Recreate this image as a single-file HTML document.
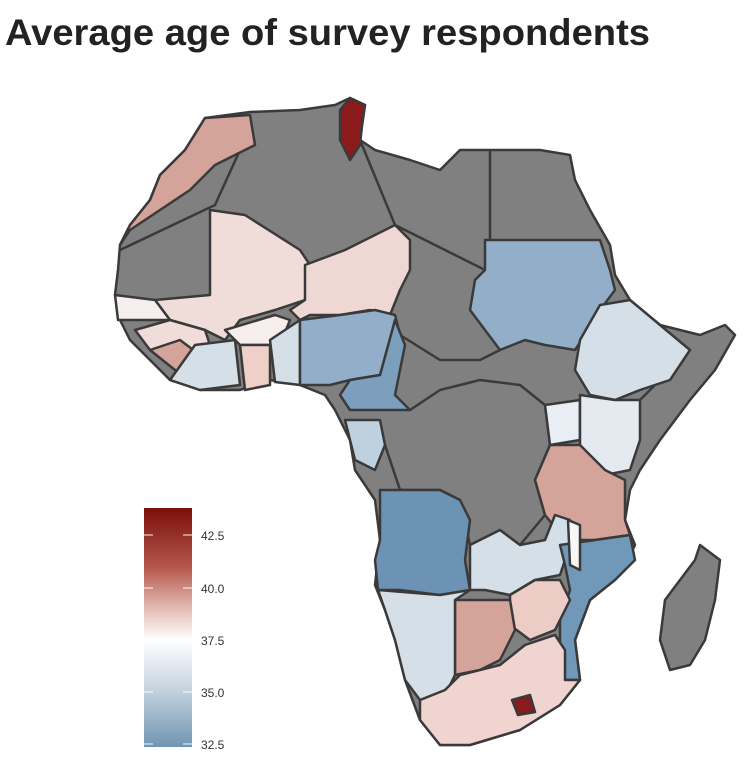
<!DOCTYPE html>
<html><head><meta charset="utf-8"><style>
body{margin:0;background:#fff;width:749px;height:775px;overflow:hidden;font-family:"Liberation Sans",sans-serif}
</style></head><body>
<svg width="749" height="775" xmlns="http://www.w3.org/2000/svg">
<defs><linearGradient id="g" x1="0" y1="0" x2="0" y2="1">
<stop offset="0" stop-color="#7a0f0a"/><stop offset="0.25" stop-color="#b5574c"/>
<stop offset="0.38" stop-color="#d9a59b"/><stop offset="0.55" stop-color="#ffffff"/>
<stop offset="0.75" stop-color="#c8d5e1"/><stop offset="1" stop-color="#7095b2"/></linearGradient></defs>
<text x="5" y="45" font-size="37" font-weight="bold" fill="#222" textLength="645" lengthAdjust="spacingAndGlyphs">Average age of survey respondents</text>
<g stroke="#3a3a3a" stroke-width="2.5" stroke-linejoin="round">
<polygon fill="#808080" points="205,118 250,112 300,110 335,105 350,98 365,105 360,140 375,150 410,160 440,170 460,150 490,150 540,150 570,155 575,180 590,210 610,245 615,275 630,300 660,325 700,335 725,325 735,335 715,370 690,400 660,440 640,470 630,490 625,520 635,545 620,575 590,600 575,640 580,680 560,705 520,730 470,745 440,745 420,720 405,680 395,640 385,610 375,585 380,540 375,500 355,470 350,440 335,410 325,395 300,385 270,380 240,390 200,390 170,380 150,360 130,340 120,320 115,295 118,270 120,245 130,225 150,200 160,175 185,150"/>
<polyline fill="none" points="360,140 395,225"/>
<polyline fill="none" points="120,250 215,205 240,150"/>
<polyline fill="none" points="490,150 490,240"/>
<polyline fill="none" points="395,225 485,270"/>
<polyline fill="none" points="410,410 440,390 480,380 520,385 545,405 550,445 535,480 545,515 520,545 500,530 470,545 460,500 440,490 400,490 385,445"/>
<polyline fill="none" points="400,335 440,360 480,360 500,350"/>
<polyline fill="none" points="640,400 660,380 690,350"/>
<polygon fill="#d4a49a" points="160,175 185,150 205,118 250,115 255,145 215,165 190,190 160,210 130,230 120,245 130,225 150,200"/>
<polygon fill="#8b1a1a" points="340,110 350,98 365,105 362,125 360,145 350,160 340,140"/>
<polygon fill="#f0dcd8" points="210,210 245,215 300,250 310,265 305,300 275,310 240,320 225,340 205,330 170,320 155,300 210,295"/>
<polygon fill="#efd8d4" points="305,265 345,250 395,225 410,240 410,270 400,290 390,315 370,310 340,315 310,315 300,320 290,310 305,300"/>
<polygon fill="#f5eeec" points="115,295 155,300 170,320 140,320 118,320"/>
<polygon fill="#f0dcd8" points="135,330 170,320 205,330 210,345 195,355 180,360 165,350 150,350"/>
<polygon fill="#d4a49a" points="150,350 180,340 200,355 195,375 175,370"/>
<polygon fill="#d5dfe8" points="195,345 235,340 240,385 200,390 170,380"/>
<polygon fill="#f5eeec" points="225,330 275,315 290,320 280,345 240,345"/>
<polygon fill="#efd0c8" points="240,345 270,345 270,385 245,390"/>
<polygon fill="#d5dfe8" points="270,340 300,320 300,385 275,382"/>
<polygon fill="#92aec8" points="300,320 340,315 375,310 395,315 400,335 395,355 380,375 350,380 330,385 300,385"/>
<polygon fill="#7d9fbe" points="395,320 405,345 400,370 395,395 410,410 380,410 350,410 340,395 350,380 380,375"/>
<polygon fill="#92aec8" points="485,240 600,240 610,270 615,290 600,310 585,335 575,350 545,345 525,340 500,350 485,330 470,310 475,280 485,270"/>
<polygon fill="#d5dfe8" points="600,305 630,300 660,325 690,350 670,380 640,390 615,400 590,395 575,370 580,340"/>
<polygon fill="#e8eef3" points="545,405 580,400 580,440 550,445"/>
<polygon fill="#e4eaf0" points="580,395 615,400 640,400 640,440 630,470 605,475 580,445"/>
<polygon fill="#d4a49a" points="550,445 580,445 605,470 625,480 625,520 630,535 595,540 565,540 545,515 535,480"/>
<polygon fill="#bfd0de" points="345,420 380,420 385,445 375,470 355,460 350,440"/>
<polygon fill="#6d93b4" points="380,490 440,490 460,500 470,520 465,560 470,590 440,595 400,590 378,590 375,560 380,540"/>
<polygon fill="#d5dfe8" points="470,545 500,530 520,545 545,540 555,515 570,520 570,545 560,575 535,580 510,595 485,590 470,590"/>
<polygon fill="#7098b8" points="560,545 595,540 630,535 635,560 615,580 590,600 575,640 580,680 565,680 560,650 560,620 570,590 565,565"/>
<polygon fill="#f7f7f7" points="568,520 580,525 580,570 570,565"/>
<polygon fill="#ecccc4" points="510,595 535,580 560,580 570,600 555,630 530,640 510,625"/>
<polygon fill="#d4a49a" points="455,600 510,600 515,630 500,660 480,670 455,675"/>
<polygon fill="#d5dfe8" points="378,590 440,595 470,590 455,600 455,675 445,695 420,700 405,680 395,640 385,610"/>
<polygon fill="#f0d4cf" points="445,690 460,675 500,665 525,645 555,635 565,650 565,680 580,680 560,705 520,730 470,745 440,745 420,720 420,700"/>
<polygon fill="#8b1a1a" points="512,700 530,695 535,712 518,715"/>
<polygon fill="#808080" points="700,545 720,560 715,600 705,640 690,665 670,670 660,640 665,600 680,580 695,560"/>
</g>
<rect x="144" y="508" width="48" height="239" fill="url(#g)"/>
<g stroke="#fff" stroke-width="1.2" opacity="0.8">
<line x1="144" y1="535" x2="153" y2="535"/><line x1="183" y1="535" x2="192" y2="535"/>
<line x1="144" y1="588" x2="153" y2="588"/><line x1="183" y1="588" x2="192" y2="588"/>
<line x1="144" y1="640" x2="153" y2="640"/><line x1="183" y1="640" x2="192" y2="640"/>
<line x1="144" y1="692" x2="153" y2="692"/><line x1="183" y1="692" x2="192" y2="692"/>
<line x1="144" y1="744" x2="153" y2="744"/><line x1="183" y1="744" x2="192" y2="744"/>
</g>
<g font-size="12" fill="#333">
<text x="201" y="540">42.5</text><text x="201" y="593">40.0</text><text x="201" y="645">37.5</text>
<text x="201" y="697">35.0</text><text x="201" y="749">32.5</text></g>
</svg>
</body></html>
